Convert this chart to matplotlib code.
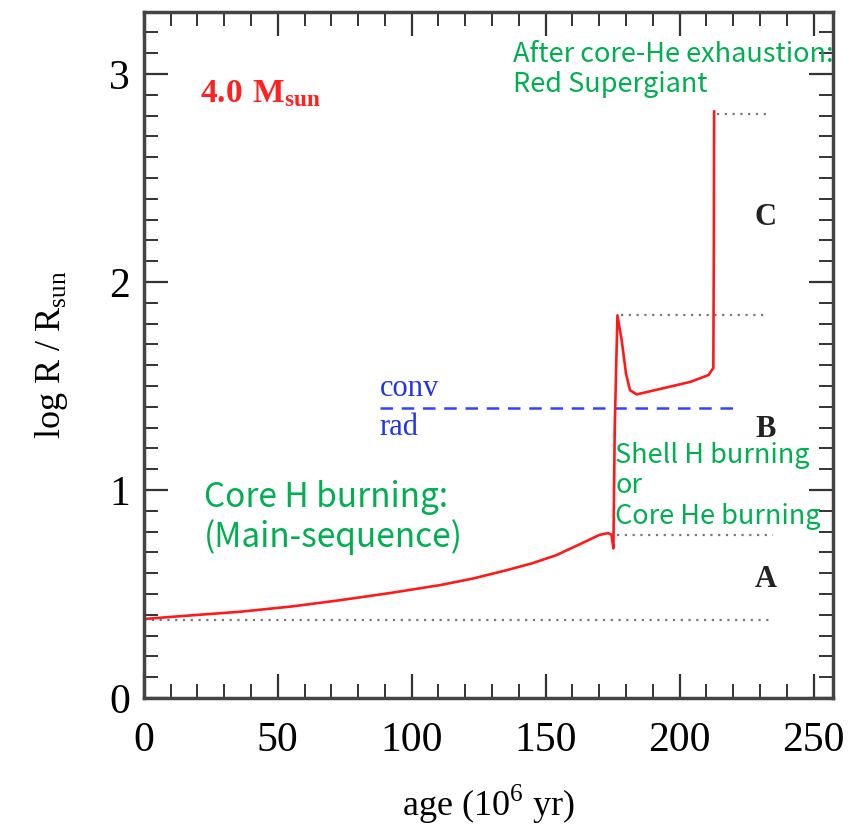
import numpy as np
import matplotlib.pyplot as plt
from matplotlib.ticker import MultipleLocator

# evolution track of a 4 Msun star
age = [0, 15, 36, 55, 73, 92, 110.6, 123, 135.5, 145, 154, 162, 170, 173.3,
       174.6, 175.3, 175.8, 176.8, 178.4, 180, 181.5, 184, 194, 204, 210.8,
       212.6, 212.8, 212.9]
logR = [0.38, 0.395, 0.415, 0.44, 0.47, 0.505, 0.543, 0.575, 0.615, 0.648,
        0.687, 0.735, 0.784, 0.793, 0.785, 0.72, 1.30, 1.84, 1.72, 1.56,
        1.48, 1.46, 1.49, 1.52, 1.553, 1.587, 2.20, 2.82]

# reference levels (dotted) : y, x start, x end
ref_y = [0.375, 0.785, 1.84, 2.81]
ref_x0 = [0, 176.5, 178, 214]
ref_x1 = [235, 235, 233, 233]
conv_y = 1.395
conv_x = [88, 221.5]

serif = 'Liberation Serif'
green = '#00b050'
plt.rcParams['mathtext.fontset'] = 'custom'
plt.rcParams['mathtext.rm'] = serif
plt.rcParams['mathtext.bf'] = serif + ':bold'

fig = plt.figure(figsize=(8.66, 8.35), dpi=100)
ax = fig.add_axes([0.166, 0.164, 0.796, 0.822])

for y, x0, x1 in zip(ref_y, ref_x0, ref_x1):
    ax.plot([x0, x1], [y, y], ls=(0, (1, 2.5)), color='#777777', lw=1.6)
ax.plot(conv_x, [conv_y, conv_y], ls=(0, (5, 3.5)), color='#3344ff', lw=1.8)
ax.plot(age, logR, color='#ff1a1a', lw=1.9)

ax.set_xlim(0, 257.3)
ax.set_ylim(0, 3.3)
ax.xaxis.set_major_locator(MultipleLocator(50))
ax.xaxis.set_minor_locator(MultipleLocator(10))
ax.yaxis.set_major_locator(MultipleLocator(1))
ax.yaxis.set_minor_locator(MultipleLocator(0.1))
ax.tick_params(which='both', direction='in', top=True, right=True,
               color='#333333')
ax.tick_params(which='major', length=17, width=1.6, labelsize=30, pad=10)
ax.tick_params(axis='x', which='major', pad=17)
ax.tick_params(which='minor', length=10, width=1.4)
for lab in ax.get_xticklabels() + ax.get_yticklabels():
    lab.set_family(serif)
for s in ax.spines.values():
    s.set_linewidth(2.5)
    s.set_color('#444444')

ax.set_xlabel(r'age (10$^{6}$ yr)', family=serif, fontsize=26, labelpad=16)
ax.set_ylabel(r'log R / R$_{\rm sun}$', family=serif, fontsize=26, labelpad=28)

ax.text(21, 2.91, r'$\mathbf{4.0\ M_{sun}}$', color='#ff2020',
        fontsize=24, va='center')
ax.text(88, 1.42, 'conv', color='#2233ee', family=serif, fontsize=22,
        va='bottom')
ax.text(88, 1.37, 'rad', color='#2233ee', family=serif, fontsize=22,
        va='top')
for lbl, yy in zip(['A', 'B', 'C'], [0.57, 1.29, 2.31]):
    ax.text(232, yy, lbl, color='#222222', family=serif, fontsize=22,
            fontweight='bold', ha='center', va='center')

ax.text(22.5, 1.05, 'Core H burning:\n(Main-sequence)', color=green,
        family='Noto Sans CJK JP', fontsize=24, va='top', linespacing=1.15,
        clip_on=False)
ax.text(176, 1.23, 'Shell H burning\nor\nCore He burning', color=green,
        family='Noto Sans CJK JP', fontsize=19.5, va='top', linespacing=1.15,
        clip_on=False)
ax.text(138, 3.16, 'After core-He exhaustion:\nRed Supergiant', color=green,
        family='Noto Sans CJK JP', fontsize=19.5, va='top', linespacing=1.15,
        clip_on=False)

fig.savefig('out.png', dpi=100)
